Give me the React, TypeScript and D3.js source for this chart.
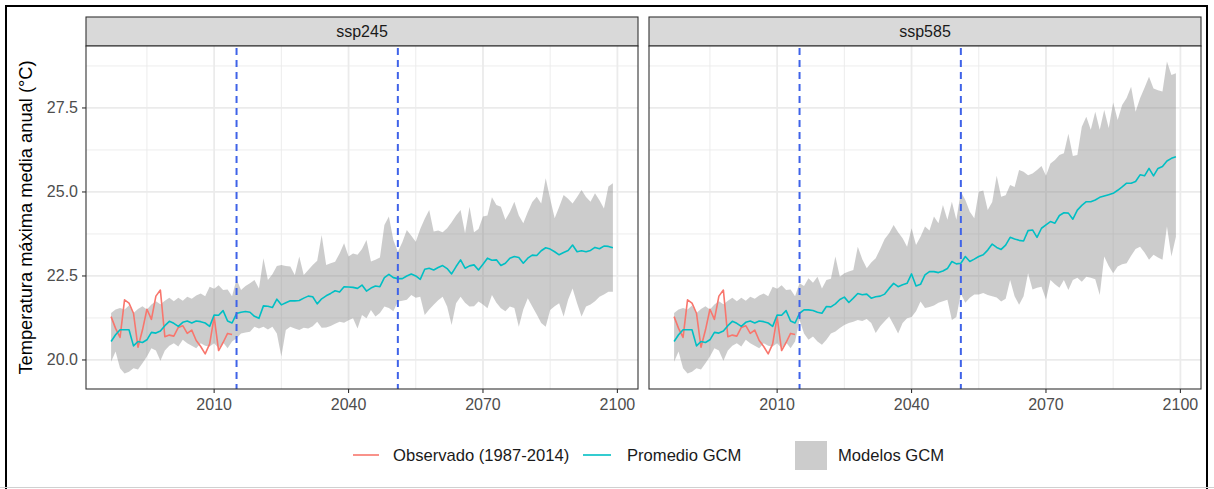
import React from "react";
import * as d3 from "d3";

// Years of the shared historical period and the scenario period
const histYears: number[] = d3.range(1987, 2015);
const futureYears: number[] = d3.range(2015, 2100);

// Observed annual mean maximum temperature (1987-2014)
const observed = [
  21.29, 20.94, 20.67, 21.79, 21.69, 21.39, 20.38, 20.89, 21.51, 21.21,
  21.9, 22.08, 20.69, 20.74, 20.71, 20.97, 21.02, 20.79, 20.89, 20.58,
  20.4, 20.18, 20.48, 21.28, 20.28, 20.52, 20.79, 20.76,
];

// GCM ensemble, historical runs (1987-2014)
const histMean = [
  20.55, 20.75, 20.9, 20.9, 20.9, 20.42, 20.55, 20.52, 20.6, 20.82,
  20.8, 20.86, 21.02, 21.15, 21.09, 21.0, 21.12, 21.16, 21.1, 21.16,
  21.14, 21.1, 21.0, 21.34, 21.33, 21.47, 21.16, 21.1,
];
const histLow = [
  19.95, 20.25, 19.75, 19.6, 19.65, 19.75, 19.72, 19.9, 20.1, 20.35,
  20.28, 19.98, 20.28, 20.42, 20.5, 20.4, 20.6, 20.5, 20.42, 20.35,
  20.5, 20.42, 20.4, 20.5, 20.35, 20.52, 20.35, 20.55,
];
const histHigh = [
  21.4, 21.5, 21.55, 21.5, 21.62, 21.4, 21.52, 21.6, 21.5, 21.65,
  21.75, 21.66, 21.76, 21.85, 21.75, 21.85, 21.76, 21.88, 21.82, 21.92,
  21.98, 21.9, 22.18, 22.12, 22.22, 22.08, 22.1, 21.9,
];

// SSP2-4.5 (2015-2099)
const ssp245Mean = [
  21.38, 21.42, 21.44, 21.42, 21.3, 21.24, 21.61, 21.6, 21.56, 21.81,
  21.64, 21.7, 21.76, 21.76, 21.77, 21.84, 21.9, 21.88, 21.67, 21.82,
  21.91, 21.98, 22.06, 22.02, 22.18, 22.17, 22.16, 22.13, 22.23, 22.05,
  22.14, 22.2, 22.18, 22.45, 22.55, 22.45, 22.42, 22.42, 22.5, 22.56,
  22.5, 22.4, 22.7, 22.73, 22.68, 22.75, 22.81, 22.72, 22.56, 22.78,
  22.98, 22.73, 22.8, 22.83, 22.68, 22.85, 23.03, 22.97, 22.98, 22.81,
  22.88, 23.03, 23.08, 23.05, 22.88, 23.03, 23.12, 23.11, 23.25, 23.34,
  23.3, 23.22, 23.13, 23.2, 23.26, 23.42, 23.22, 23.25, 23.22, 23.26,
  23.35, 23.31, 23.39, 23.38, 23.34,
];
const ssp245Low = [
  20.65, 20.79, 20.82, 20.84, 20.99, 20.94, 20.99, 20.91, 20.99, 20.79,
  20.1, 20.89, 20.99, 20.94, 20.89, 20.96, 20.94, 21.0, 21.14, 20.96,
  20.97, 21.01, 21.08, 21.14, 21.11, 21.18, 21.24, 20.94, 21.34, 21.24,
  21.49, 21.29, 21.4, 21.59, 21.55, 21.45, 21.74, 21.76, 21.79, 21.93,
  21.85, 21.88, 21.34, 21.5, 21.64, 21.78, 21.88, 21.59, 21.04, 21.69,
  21.88, 21.7, 21.59, 21.6, 21.74, 21.65, 21.54, 21.93, 21.7, 21.54,
  21.45, 21.59, 21.55, 20.99, 21.5, 21.84, 21.59, 21.35, 21.1, 20.99,
  21.49, 21.6, 21.69, 21.29, 21.79, 22.13, 21.69, 21.29, 21.59, 21.65,
  21.75, 21.88, 21.95, 22.03, 22.03,
];
const ssp245High = [
  22.4, 22.08, 22.2, 22.28, 22.38, 22.13, 23.03, 22.38, 22.55, 22.8,
  22.83, 22.8, 22.78, 22.53, 23.08, 22.53, 22.68, 22.83, 22.95, 23.72,
  22.83, 22.88, 22.92, 23.17, 23.47, 23.08, 23.17, 23.13, 23.3, 23.57,
  22.93, 22.98, 23.05, 24.02, 24.27, 23.57, 23.22, 23.5, 23.87, 23.7,
  23.52, 23.9, 24.2, 24.46, 23.82, 23.85, 23.8, 23.92, 24.1, 24.3,
  24.46, 23.77, 24.56, 23.8, 23.9, 24.27, 24.3, 24.84, 24.61, 24.56,
  24.17, 24.4, 24.71, 24.3, 24.07, 24.4, 24.7, 24.86, 24.66, 25.41,
  24.8, 24.22, 24.55, 24.91, 24.8, 24.66, 24.85, 25.06, 24.85, 24.71,
  24.96, 24.75, 24.51, 25.16, 25.26,
];

// SSP5-8.5 (2015-2099)
const ssp585Mean = [
  21.39, 21.49, 21.49, 21.47, 21.42, 21.39, 21.59, 21.58, 21.67, 21.8,
  21.87, 21.71, 21.84, 21.98, 21.94, 21.96, 21.84, 21.88, 21.9, 21.96,
  22.13, 22.28, 22.18, 22.24, 22.28, 22.56, 22.2, 22.25, 22.53, 22.63,
  22.63, 22.6, 22.65, 22.72, 22.93, 22.86, 22.88, 23.08, 22.93, 23.0,
  23.08, 23.13, 23.27, 23.45, 23.35, 23.29, 23.42, 23.65, 23.6, 23.56,
  23.54, 23.85, 23.87, 23.65, 23.92, 24.02, 24.12, 24.07, 24.3, 24.38,
  24.37, 24.19, 24.46, 24.6, 24.71, 24.71, 24.76, 24.84, 24.88, 24.92,
  24.96, 25.05, 25.15, 25.26, 25.26, 25.31, 25.51, 25.48, 25.7, 25.48,
  25.7, 25.76, 25.92, 26.0, 26.05,
];
const ssp585Low = [
  21.19, 20.79, 20.6, 20.7, 20.55, 20.45, 20.6, 20.79, 20.85, 20.95,
  21.04, 21.1, 21.14, 21.19, 21.16, 21.22, 21.1, 20.8, 21.0, 21.15,
  21.29, 21.05, 20.79, 21.1, 21.24, 21.28, 21.45, 21.74, 21.55, 21.58,
  21.62, 21.7, 21.75, 21.79, 21.19, 21.28, 21.98, 21.7, 21.85, 21.95,
  21.95, 21.99, 21.93, 21.9, 21.86, 21.74, 21.82, 22.38, 21.9, 21.64,
  21.9, 22.58, 22.1, 22.15, 22.18, 21.8, 22.38, 22.25, 22.15, 22.38,
  22.08, 22.38, 22.45, 22.33, 22.48, 22.45, 22.4, 21.93, 23.08, 22.8,
  22.58, 22.78, 22.85, 22.88, 23.1, 23.3, 23.37, 23.2, 22.98, 23.13,
  23.05, 22.98, 23.97, 23.08, 23.67,
];
const ssp585High = [
  22.28, 22.2, 22.43, 22.3, 22.48, 22.13, 22.38, 22.42, 23.08, 22.48,
  22.58, 22.63, 22.68, 23.37, 23.0, 22.73, 22.9, 23.03, 23.3, 23.6,
  23.77, 24.02, 23.8, 23.62, 23.37, 23.92, 23.42, 23.67, 23.97, 23.85,
  24.27, 24.07, 24.61, 24.17, 24.71, 24.17, 25.01, 24.76, 24.41, 24.22,
  25.01, 25.04, 24.46, 24.7, 25.48, 24.86, 24.9, 25.21, 25.15, 25.65,
  25.6, 25.5, 25.55, 25.65, 25.77, 25.48, 25.85, 25.95, 26.1, 26.15,
  26.73, 26.07, 26.1, 26.94, 27.24, 26.85, 27.39, 26.85, 27.44, 26.9,
  27.66, 27.14, 27.59, 27.8, 28.13, 27.39, 27.79, 28.1, 28.43, 28.08,
  28.03, 27.99, 28.88, 28.48, 28.53,
];

// Reference years marked with dashed lines, axis ticks
const markerYears = [2015, 2051];
const xMajorTicks = [2010, 2040, 2070, 2100];
const xMinorTicks = [1995, 2025, 2055, 2085];
const yMajorTicks = [20, 22.5, 25, 27.5];
const yMinorTicks = [21.25, 23.75, 26.25, 28.75];

const scenarios = [
  { name: "ssp245", mean: ssp245Mean, low: ssp245Low, high: ssp245High },
  { name: "ssp585", mean: ssp585Mean, low: ssp585Low, high: ssp585High },
];

const COL_OBS = "#F8766D";
const COL_MEAN = "#00BFC4";
const COL_RIBBON = "#CCCCCC";
const FONT = "'Liberation Sans', Arial, Helvetica, sans-serif";

const allYears = [...histYears, ...futureYears];

type Pt = { year: number; v: number };
type Band = { year: number; lo: number; hi: number };

export default function App() {
  const W = 1214;
  const H = 489;
  const panelLefts = [86, 649];
  const panelW = 552;
  const panelTop = 46;
  const panelH = 343;
  const stripTop = 17;
  const stripH = 29;

  // ggplot-style 5% expansion of the data range
  const [x0, x1] = d3.extent(allYears) as [number, number];
  const xPad = (x1 - x0) * 0.05;
  const x = d3.scaleLinear().domain([x0 - xPad, x1 + xPad]).range([0, panelW]);

  const allVals = [
    ...observed, ...histLow, ...histHigh,
    ...ssp245Low, ...ssp245High, ...ssp585Low, ...ssp585High,
  ];
  const [y0, y1] = d3.extent(allVals) as [number, number];
  const yPad = (y1 - y0) * 0.05;
  const y = d3.scaleLinear().domain([y0 - yPad, y1 + yPad]).range([panelH, 0]);

  const line = d3.line<Pt>().x((d) => x(d.year)).y((d) => y(d.v));
  const area = d3
    .area<Band>()
    .x((d) => x(d.year))
    .y0((d) => y(d.lo))
    .y1((d) => y(d.hi));

  const obsPts: Pt[] = histYears.map((yr, i) => ({ year: yr, v: observed[i] }));

  return (
    <svg
      width={W}
      height={H}
      viewBox={`0 0 ${W} ${H}`}
      style={{ position: "absolute", left: 0, top: 0, background: "#fff" }}
      fontFamily={FONT}
    >
      <rect x={0} y={0} width={W} height={H} fill="#fff" />

      {scenarios.map((s, pi) => {
        const left = panelLefts[pi];
        const meanPts: Pt[] = allYears.map((yr, i) => ({
          year: yr,
          v: i < histYears.length ? histMean[i] : s.mean[i - histYears.length],
        }));
        const band: Band[] = allYears.map((yr, i) => {
          const h = i < histYears.length;
          const j = i - histYears.length;
          return {
            year: yr,
            lo: h ? histLow[i] : s.low[j],
            hi: h ? histHigh[i] : s.high[j],
          };
        });
        return (
          <g key={s.name}>
            {/* facet strip */}
            <rect
              x={left}
              y={stripTop}
              width={panelW}
              height={stripH}
              fill="#D9D9D9"
              stroke="#333333"
              strokeWidth={1.1}
            />
            <text
              x={left + panelW / 2}
              y={stripTop + stripH / 2 + 5.5}
              textAnchor="middle"
              fontSize={16}
              fill="#1A1A1A"
            >
              {s.name}
            </text>

            <g transform={`translate(${left},${panelTop})`}>
              <rect x={0} y={0} width={panelW} height={panelH} fill="#fff" />
              {/* grid */}
              {xMinorTicks.map((t) => (
                <line key={`xm${t}`} x1={x(t)} x2={x(t)} y1={0} y2={panelH} stroke="#EBEBEB" strokeWidth={0.9} />
              ))}
              {yMinorTicks.map((t) => (
                <line key={`ym${t}`} x1={0} x2={panelW} y1={y(t)} y2={y(t)} stroke="#EBEBEB" strokeWidth={0.9} />
              ))}
              {xMajorTicks.map((t) => (
                <line key={`xM${t}`} x1={x(t)} x2={x(t)} y1={0} y2={panelH} stroke="#EBEBEB" strokeWidth={1.8} />
              ))}
              {yMajorTicks.map((t) => (
                <line key={`yM${t}`} x1={0} x2={panelW} y1={y(t)} y2={y(t)} stroke="#EBEBEB" strokeWidth={1.8} />
              ))}

              {/* model spread */}
              <path d={area(band) ?? ""} fill="#7F7F7F" fillOpacity={0.4} />

              {/* observed and ensemble mean */}
              <path d={line(obsPts) ?? ""} fill="none" stroke={COL_OBS} strokeWidth={1.6} strokeLinejoin="round" />
              <path d={line(meanPts) ?? ""} fill="none" stroke={COL_MEAN} strokeWidth={1.6} strokeLinejoin="round" />

              {/* reference periods */}
              {markerYears.map((t) => (
                <line
                  key={`v${t}`}
                  x1={x(t)}
                  x2={x(t)}
                  y1={0}
                  y2={panelH}
                  stroke="#3F63E8"
                  strokeWidth={2}
                  strokeDasharray="7 5"
                  strokeDashoffset={-2}
                />
              ))}

              <rect x={0} y={0} width={panelW} height={panelH} fill="none" stroke="#333333" strokeWidth={1.1} />

              {/* x axis */}
              {xMajorTicks.map((t) => (
                <g key={`xt${t}`}>
                  <line x1={x(t)} x2={x(t)} y1={panelH} y2={panelH + 4} stroke="#333333" strokeWidth={1.1} />
                  <text x={x(t)} y={panelH + 21} textAnchor="middle" fontSize={16} fill="#4D4D4D">
                    {t}
                  </text>
                </g>
              ))}

              {/* y axis on the first facet only */}
              {pi === 0 &&
                yMajorTicks.map((t) => (
                  <g key={`yt${t}`}>
                    <line x1={-4} x2={0} y1={y(t)} y2={y(t)} stroke="#333333" strokeWidth={1.1} />
                    <text x={-8} y={y(t) + 5.5} textAnchor="end" fontSize={16} fill="#4D4D4D">
                      {t.toFixed(1)}
                    </text>
                  </g>
                ))}
            </g>
          </g>
        );
      })}

      {/* y axis title */}
      <text
        transform={`translate(32, ${panelTop + panelH / 2}) rotate(-90)`}
        textAnchor="middle"
        fontSize={18.3}
        fill="#000"
      >
        Temperatura máxima media anual (°C)
      </text>

      {/* legend */}
      <g fontSize={16.6} fill="#1A1A1A">
        <line x1={353} x2={379} y1={455} y2={455} stroke={COL_OBS} strokeWidth={1.6} />
        <text x={393} y={460.8}>Observado (1987-2014)</text>
        <line x1={583} x2={611} y1={455} y2={455} stroke={COL_MEAN} strokeWidth={1.6} />
        <text x={627} y={460.8}>Promedio GCM</text>
        <rect x={795} y={441} width={32} height={29} fill={COL_RIBBON} />
        <text x={838} y={460.8}>Modelos GCM</text>
      </g>

      {/* outer frame */}
      <rect x={6} y={6} width={1201} height={500} fill="none" stroke="#000" strokeWidth={2} />
      <line x1={0} x2={W} y1={487.5} y2={487.5} stroke="#D0D0D0" strokeWidth={1} />
    </svg>
  );
}
